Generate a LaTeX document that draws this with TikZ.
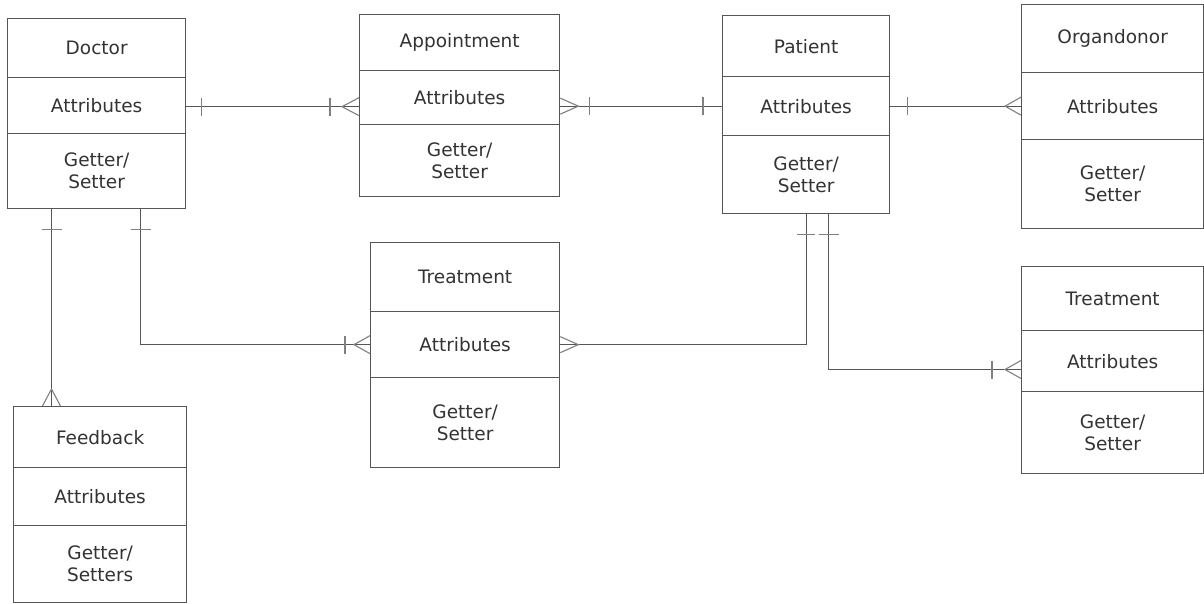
\documentclass[tikz,border=0pt]{standalone}
\usepackage{fontspec}
\setmainfont{DejaVu Sans}
\usetikzlibrary{calc}
\definecolor{ln}{HTML}{555555}
\definecolor{tk}{HTML}{808080}
\definecolor{tx}{HTML}{333333}
\begin{document}
\begin{tikzpicture}[x=1pt,y=-1pt,
  sec/.style={draw=ln, line width=1.3pt, rectangle, inner sep=0pt, anchor=north west,
    text=tx, font=\fontsize{18.5}{22}\selectfont, align=center},
  conn/.style={draw=ln, line width=1.3pt},
  mk/.style={draw=tk, line width=1.1pt}]
\useasboundingbox (0,0) rectangle (1204,603);
\clip (0,0) rectangle (1204,603);
\fill[white] (0,0) rectangle (1204,603);

% Doctor
\node[sec, minimum width=178pt, minimum height=59pt] (doct) at (7,18) {Doctor};
\node[sec, minimum width=178pt, minimum height=56pt] (doca) at (7,77) {Attributes};
\node[sec, minimum width=178pt, minimum height=75pt] (docg) at (7,133) {Getter/\\Setter};
% Appointment
\node[sec, minimum width=200pt, minimum height=56pt] (appt) at (359,14) {Appointment};
\node[sec, minimum width=200pt, minimum height=54pt] (appa) at (359,70) {Attributes};
\node[sec, minimum width=200pt, minimum height=72pt] (appg) at (359,124) {Getter/\\Setter};
% Patient
\node[sec, minimum width=167pt, minimum height=61pt] (patt) at (722,15) {Patient};
\node[sec, minimum width=167pt, minimum height=59pt] (pata) at (722,76) {Attributes};
\node[sec, minimum width=167pt, minimum height=78pt] (patg) at (722,135) {Getter/\\Setter};
% Organdonor
\node[sec, minimum width=182pt, minimum height=68pt] (orgt) at (1021,4) {Organdonor};
\node[sec, minimum width=182pt, minimum height=67pt] (orga) at (1021,72) {Attributes};
\node[sec, minimum width=182pt, minimum height=89pt] (orgg) at (1021,139) {Getter/\\Setter};
% Treatment (middle)
\node[sec, minimum width=189pt, minimum height=69pt] (trtt) at (370,242) {Treatment};
\node[sec, minimum width=189pt, minimum height=66pt] (trta) at (370,311) {Attributes};
\node[sec, minimum width=189pt, minimum height=90pt] (trtg) at (370,377) {Getter/\\Setter};
% Treatment (right)
\node[sec, minimum width=182pt, minimum height=64pt] (trbt) at (1021,266) {Treatment};
\node[sec, minimum width=182pt, minimum height=61pt] (trba) at (1021,330) {Attributes};
\node[sec, minimum width=182pt, minimum height=82pt] (trbg) at (1021,391) {Getter/\\Setter};
% Feedback
\node[sec, minimum width=173pt, minimum height=61pt] (fbt) at (13,406) {Feedback};
\node[sec, minimum width=173pt, minimum height=58pt] (fba) at (13,467) {Attributes};
\node[sec, minimum width=173pt, minimum height=77pt] (fbg) at (13,525) {Getter/\\Setters};

% helper coordinates
\coordinate (x51) at (51.5,0);
\coordinate (x140) at (140.5,0);
\coordinate (x828) at (828.5,0);
\coordinate (y370) at (0,369.5);

% 1 Doctor - Appointment
\coordinate (p1a) at ($(doca.east)+(0,1)$);
\coordinate (p1b) at (p1a -| appa.west);
\draw[conn] (p1a) -- (p1b);
\draw[mk] ($(p1a)+(15,-9)$) -- ($(p1a)+(15,9)$);
\draw[mk] ($(p1b)+(-29,-9)$) -- ($(p1b)+(-29,9)$);
\draw[mk] ($(p1b)+(0,-9)$) -- ($(p1b)+(-17,0)$) -- ($(p1b)+(0,9)$);

% 2 Appointment - Patient
\coordinate (p2b) at (pata.west);
\coordinate (p2a) at (appa.east |- p2b);
\draw[conn] (p2a) -- (p2b);
\draw[mk] ($(p2a)+(0,-8)$) -- ($(p2a)+(18,0)$) -- ($(p2a)+(0,8)$);
\draw[mk] ($(p2a)+(29,-9)$) -- ($(p2a)+(29,9)$);
\draw[mk] ($(p2b)+(-19,-9)$) -- ($(p2b)+(-19,9)$);

% 3 Patient - Organdonor
\coordinate (p3a) at (pata.east);
\coordinate (p3b) at (p3a -| orga.west);
\draw[conn] (p3a) -- (p3b);
\draw[mk] ($(p3a)+(17,-9)$) -- ($(p3a)+(17,9)$);
\draw[mk] ($(p3b)+(0,-9)$) -- ($(p3b)+(-16,0)$) -- ($(p3b)+(0,9)$);

% 4 Doctor - Feedback
\coordinate (p4a) at (docg.south -| x51);
\coordinate (p4b) at (fbt.north -| x51);
\draw[conn] (p4a) -- (p4b);
\draw[mk] ($(p4a)+(-10,20)$) -- ($(p4a)+(10,20)$);
\draw[mk] ($(p4b)+(-9,0)$) -- ($(p4b)+(0,-17)$) -- ($(p4b)+(9,0)$);

% 5 Doctor - Treatment
\coordinate (p5a) at (docg.south -| x140);
\coordinate (p5b) at (trta.west);
\draw[conn] (p5a) |- (p5b);
\draw[mk] ($(p5a)+(-10,20)$) -- ($(p5a)+(10,20)$);
\draw[mk] ($(p5b)+(-25,-9)$) -- ($(p5b)+(-25,9)$);
\draw[mk] ($(p5b)+(0,-9)$) -- ($(p5b)+(-16,0)$) -- ($(p5b)+(0,9)$);

% 6 Treatment - Patient
\coordinate (p6a) at (trta.east);
\coordinate (p6b) at (patg.south);
\draw[conn] (p6a) -| (p6b);
\draw[mk] ($(p6a)+(0,-8)$) -- ($(p6a)+(18,0)$) -- ($(p6a)+(0,8)$);
\draw[mk] ($(p6b)+(-9,20)$) -- ($(p6b)+(9,20)$);

% 7 Patient - Treatment (right)
\coordinate (p7a) at (patg.south -| x828);
\coordinate (p7b) at (trba.west |- y370);
\draw[conn] (p7a) |- (p7b);
\draw[mk] ($(p7a)+(-10,20)$) -- ($(p7a)+(10,20)$);
\draw[mk] ($(p7b)+(-29,-9)$) -- ($(p7b)+(-29,9)$);
\draw[mk] ($(p7b)+(0,-9)$) -- ($(p7b)+(-16,0)$) -- ($(p7b)+(0,9)$);
\end{tikzpicture}
\end{document}
